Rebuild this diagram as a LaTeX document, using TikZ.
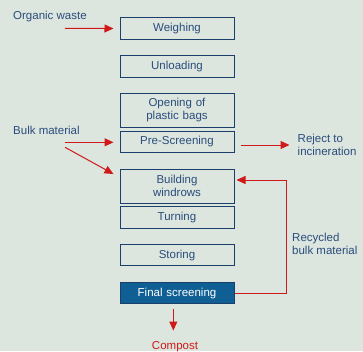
\documentclass[tikz,border=0pt]{standalone}
\usepackage{fontspec}
\setmainfont{Liberation Sans}
\usetikzlibrary{arrows.meta}
\definecolor{bgc}{HTML}{DCE5DE}
\definecolor{txt}{HTML}{2A4D7C}
\definecolor{edge}{HTML}{1B3F6B}
\definecolor{fillb}{HTML}{0F5F94}
\definecolor{flow}{HTML}{D01A1A}
\tikzset{
  stage/.style={draw=edge, line width=1pt, minimum width=114pt, text width=110pt,
    align=center, inner sep=0pt, text=txt, font=\fontsize{11.5}{13}\selectfont},
  lbl/.style={text=txt, font=\fontsize{11.5}{13}\selectfont, inner sep=0pt, align=left},
  flowarrow/.style={draw=flow, line width=1pt, -{Triangle[length=9pt,width=8pt]}},
}
\begin{document}
\begin{tikzpicture}[x=1pt,y=-1pt]
\fill[bgc] (0,0) rectangle (363,351);
\useasboundingbox (0,0) rectangle (363,351);

% process stages
\node[stage, minimum height=21.5pt] (weigh) at (177,28.5) {Weighing};
\node[stage, minimum height=21.5pt] (unload) at (177,66.5) {Unloading};
\node[stage, minimum height=34pt] (open) at (177,110.3) {Opening of\\plastic bags};
\node[stage, minimum height=21.5pt] (pre) at (177,142) {Pre-Screening};
\node[stage, minimum height=34pt] (build) at (177,186.3) {Building\\windrows};
\node[stage, minimum height=21.5pt] (turn) at (177,217.5) {Turning};
\node[stage, minimum height=21.5pt] (store) at (177,255.2) {Storing};
\node[stage, minimum height=21.5pt, fill=fillb, text=white] (final) at (177,293.2) {Final screening};

% inputs and outputs
\node[lbl, anchor=west] (organic) at (13,17) {Organic waste};
\node[lbl, anchor=west] (bulk) at (13,130.5) {Bulk material};
\node[lbl, anchor=west] (reject) at (297.5,145) {Reject to\\incineration};
\node[lbl, anchor=west] (recyc) at (292,244) {Recycled\\bulk material};
\node[text=flow, font=\fontsize{11.5}{13}\selectfont, inner sep=0pt] (compost) at (175,347) {Compost};

\coordinate (o1) at (65,28.3);
\coordinate (b1) at (65,142.3);
\coordinate (b2) at (65,147.3);
\coordinate (r1) at (241,145);
\coordinate (c1) at (173.3,308.5);
\coordinate (loop) at (286.7,180);

\draw[flowarrow] (o1) -- (weigh.west -| 113.5,0);
\draw[flowarrow] (b1) -- (113.5,142.3);
\draw[flowarrow] (b2) -- (113.5,174);
\draw[flowarrow] (r1) -- (reject.west -| 289.5,0);
\draw[flowarrow] (c1) -- (173.3,330.5);
\draw[flowarrow] (final.east) -| (loop) -- (236.5,180);
\end{tikzpicture}
\end{document}
